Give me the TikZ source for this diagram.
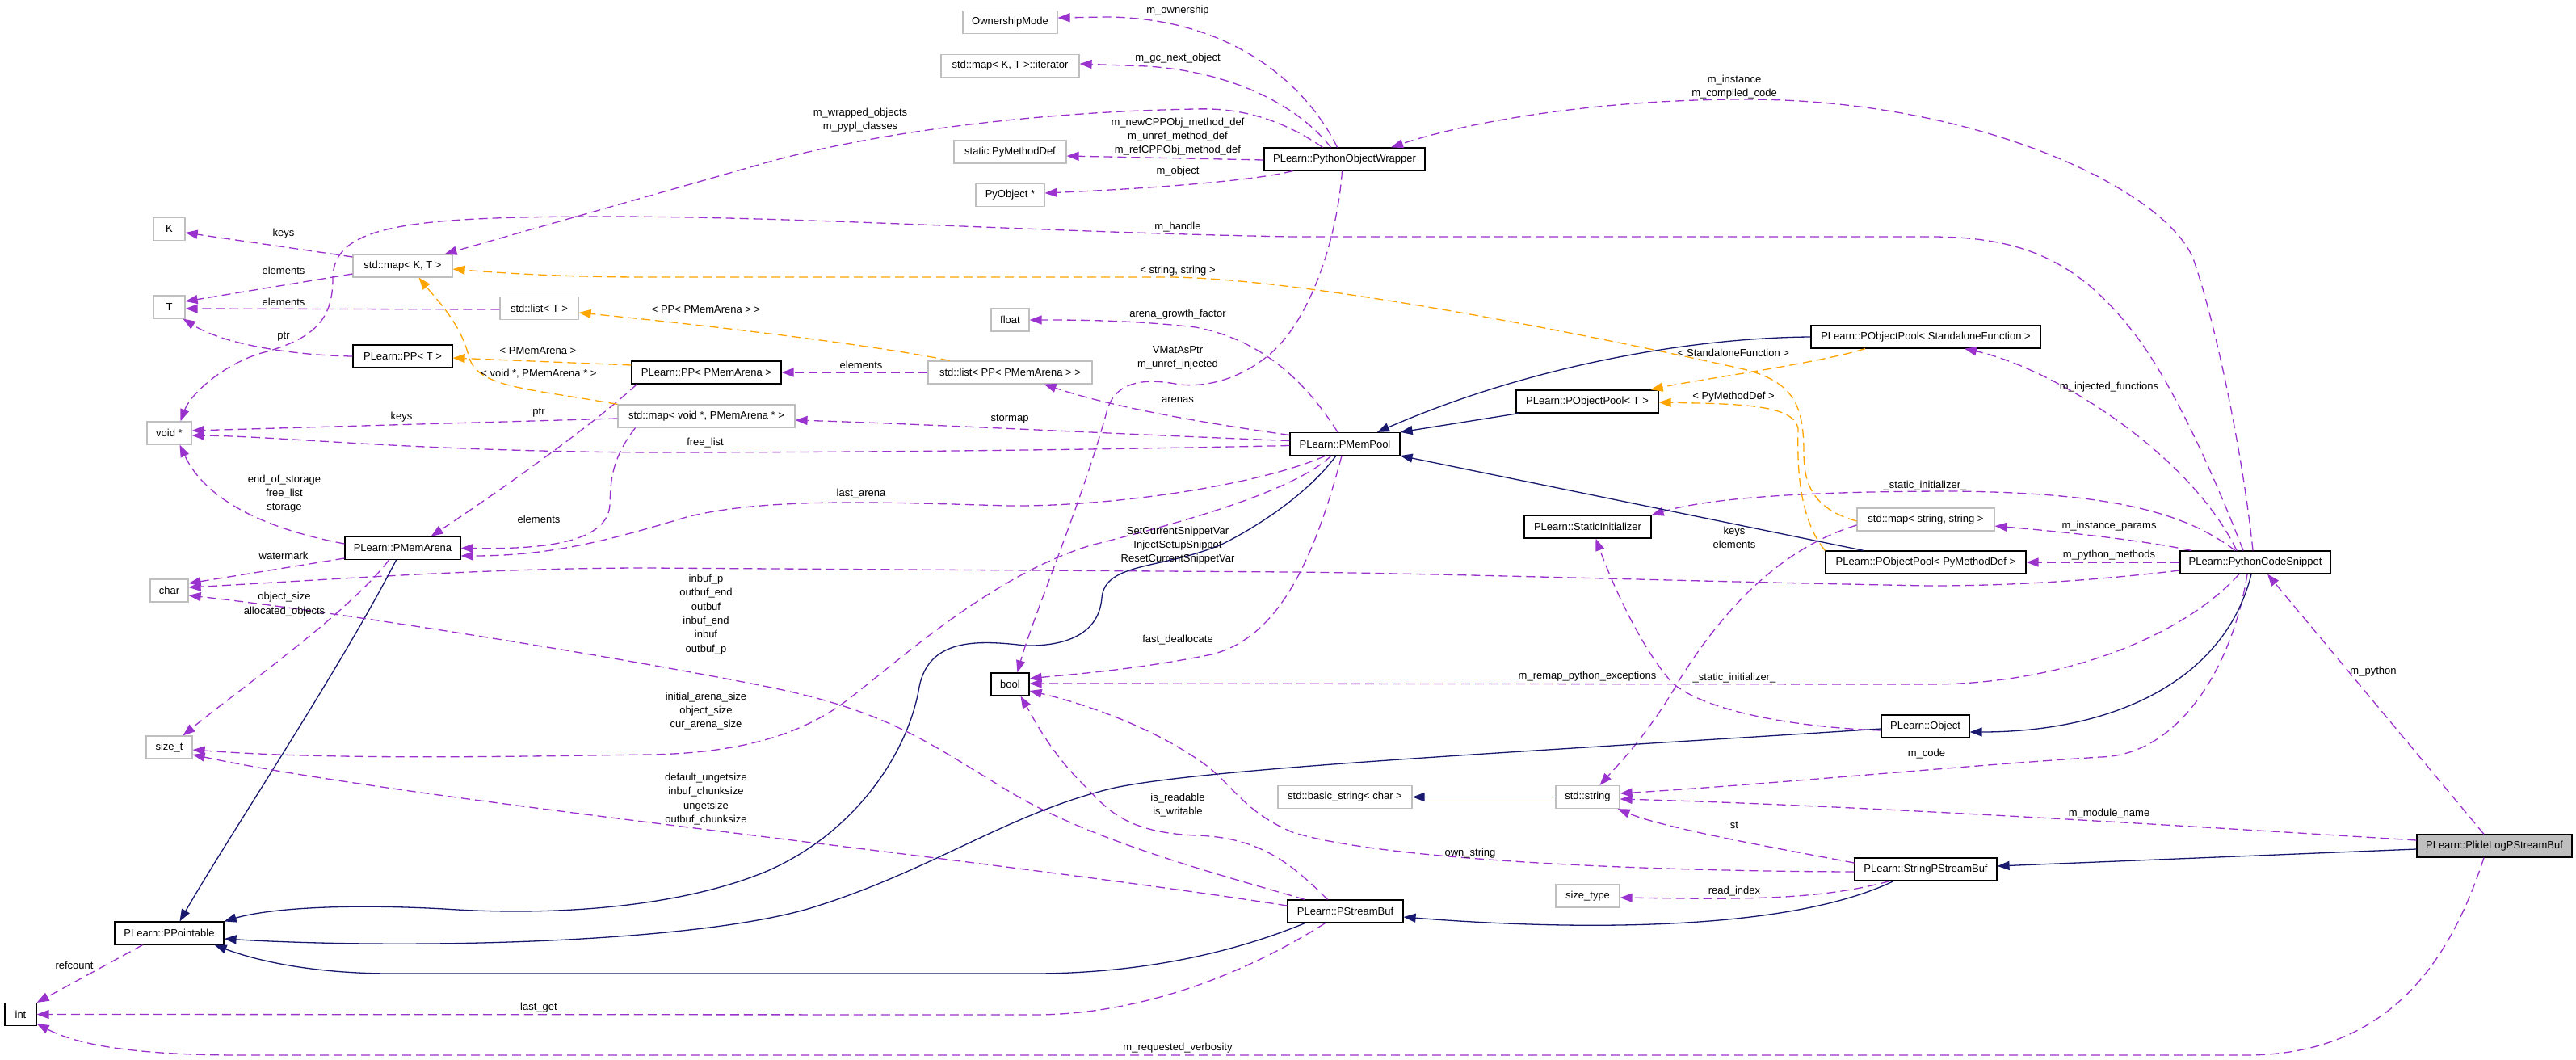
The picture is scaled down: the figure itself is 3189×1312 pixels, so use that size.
\documentclass[tikz,border=0pt]{standalone}
\usepackage{fontspec}
\setmainfont{Liberation Sans}
\usetikzlibrary{arrows.meta}
\definecolor{epurple}{HTML}{9A32CD}
\definecolor{eorange}{HTML}{FFA500}
\definecolor{enavy}{HTML}{191970}
\definecolor{bgray}{HTML}{BFBFBF}
\definecolor{bfill}{HTML}{BFBFBF}
\newcommand{\dfont}{\fontsize{13pt}{17.3pt}\selectfont}
\begin{document}
\begin{tikzpicture}[x=1pt,y=-1pt,
  box/.style={rectangle, minimum height=28pt, inner sep=0pt, font=\dfont, line width=1.2pt, fill=white},
  ext/.style={box, draw=bgray},
  cls/.style={box, draw=black},
  conn/.style={line width=1.3pt, -{Triangle[length=15pt,width=11pt]}},
  mem/.style={conn, draw=epurple, dash pattern=on 11pt off 6pt},
  tmpl/.style={conn, draw=eorange, dash pattern=on 11pt off 6pt},
  inh/.style={conn, draw=enavy},
  lbl/.style={font=\dfont, align=center, inner sep=0pt}]
\fill[white] (0,0) rectangle (3189,1312);
\useasboundingbox (0,0) rectangle (3189,1312);

% ---------- nodes ----------
\node[ext, minimum width=39pt] (K) at (209.5,283.5) {K};
\node[ext, minimum width=39pt] (T) at (209.5,380) {T};
\node[ext, minimum width=123pt] (mapKT) at (498.5,329) {std::map< K, T >};
\node[ext, minimum width=97pt] (listT) at (667.5,381.5) {std::list< T >};
\node[cls, minimum width=123pt] (PPT) at (498.5,441) {PLearn::PP< T >};
\node[ext, minimum width=55pt] (voidp) at (209.5,536) {void *};
\node[ext, minimum width=47pt] (char) at (209.5,731) {char};
\node[ext, minimum width=57pt] (sizet) at (209.5,925) {size\_t};
\node[ext, minimum width=117pt] (own) at (1250.5,27.5) {OwnershipMode};
\node[ext, minimum width=171pt] (iter) at (1250.5,81.5) {std::map< K, T >::iterator};
\node[ext, minimum width=139pt] (spmd) at (1250.5,188) {static PyMethodDef};
\node[ext, minimum width=85pt] (pyobj) at (1250.5,241.5) {PyObject *};
\node[ext, minimum width=47pt] (float) at (1250.5,396) {float};
\node[ext, minimum width=219pt] (mapVoid) at (874.5,515) {std::map< void *, PMemArena * >};
\node[ext, minimum width=203pt] (listPP) at (1250.5,461) {std::list< PP< PMemArena > >};
\node[ext, minimum width=170pt] (mapSS) at (2384,643) {std::map< string, string >};
\node[ext, minimum width=166pt] (bstr) at (1665,986.5) {std::basic\_string< char >};
\node[ext, minimum width=79pt] (str) at (1965.5,986.5) {std::string};
\node[ext, minimum width=79pt] (stype) at (1965.5,1109) {size\_type};
\node[cls, minimum width=185pt] (PPMA) at (874.5,461) {PLearn::PP< PMemArena >};
\node[cls, minimum width=143pt] (PMA) at (498.5,678.5) {PLearn::PMemArena};
\node[cls, minimum width=135pt] (PPo) at (209.5,1155) {PLearn::PPointable};
\node[cls, minimum width=39pt] (int) at (25.5,1255.5) {int};
\node[cls, minimum width=47pt] (bool) at (1250.5,847) {bool};
\node[cls, minimum width=199pt] (POW) at (1664.5,197) {PLearn::PythonObjectWrapper};
\node[cls, minimum width=136pt] (PMP) at (1665,549.5) {PLearn::PMemPool};
\node[cls, minimum width=176pt] (POPT) at (1965,497) {PLearn::PObjectPool< T >};
\node[cls, minimum width=284pt] (POPSF) at (2384,417) {PLearn::PObjectPool< StandaloneFunction >};
\node[cls, minimum width=157pt] (SI) at (1965.5,652) {PLearn::StaticInitializer};
\node[cls, minimum width=248pt] (POPPMD) at (2384,696) {PLearn::PObjectPool< PyMethodDef >};
\node[cls, minimum width=186pt] (PCS) at (2792,696) {PLearn::PythonCodeSnippet};
\node[cls, minimum width=109pt] (Obj) at (2383.5,899) {PLearn::Object};
\node[cls, minimum width=176pt] (SPSB) at (2384,1076) {PLearn::StringPStreamBuf};
\node[cls, minimum width=143pt] (PSB) at (1665.5,1128) {PLearn::PStreamBuf};
\node[cls, fill=bfill, minimum width=192pt] (PLPS) at (3088,1047) {PLearn::PlideLogPStreamBuf};

% ---------- connectors ----------
\draw[mem] ([yshift=11pt]mapKT.west) -- ([yshift=-4.5pt]K.east);
\draw[mem] ([yshift=-10pt]mapKT.west) -- ([yshift=7pt]T.east);
\draw[mem] ([yshift=-1.5pt]listT.west) -- ([yshift=-2pt]T.east);
\draw[mem] (PPT.west) .. controls (370,440) and (280,428) .. ([xshift=-3pt]T.south east);
\draw[mem] ([xshift=-15pt]PCS.north) .. controls (2730,560) and (2680,460) .. (2640,410) .. controls (2570,320) and (2500,293) .. (2389,293) -- (1600,293) .. controls (1300,288) and (1000,268) .. (750,268) .. controls (500,268) and (412,280) .. (412,345) .. controls (412,395) and (390,420) .. (320,438) .. controls (270,455) and (235,490) .. ([xshift=14pt]voidp.north);
\draw[mem] ([xshift=-27pt]POW.north) .. controls (1590,150) and (1540,133) .. (1480,135) .. controls (1300,138) and (1100,160) .. (953,200) -- ([xshift=52pt]mapKT.north);
\draw[mem] ([xshift=-9pt]POW.north) .. controls (1615,100) and (1520,22) .. (1370,21) -- ([yshift=5.5pt]own.east);
\draw[mem] ([xshift=-17pt]POW.north) .. controls (1615,140) and (1540,90) .. (1420,82) -- ([yshift=2.5pt]iter.east);
\draw[mem] ([yshift=-1pt]POW.west) -- ([yshift=-5pt]spmd.east);
\draw[mem] ([xshift=-64pt]POW.south) .. controls (1560,222) and (1450,232) .. ([yshift=2.5pt]pyobj.east);
\draw[mem] ([xshift=-3pt]PCS.north) .. controls (2775,550) and (2740,390) .. (2715,320) .. controls (2680,235) and (2450,123) .. (2160,123) .. controls (1980,123) and (1820,150) .. ([xshift=57.5pt]POW.north);
\draw[mem] ([xshift=-23pt]PCS.north) .. controls (2710,560) and (2540,455) .. ([xshift=48pt]POPSF.south);
\draw[mem] ([xshift=-25pt]PCS.north) .. controls (2700,630) and (2600,610) .. (2420,608) .. controls (2250,608) and (2120,615) .. (SI.north east);
\draw[mem] ([xshift=-79pt]PCS.north) .. controls (2650,668) and (2550,658) .. ([yshift=-8pt]mapSS.east);
\draw[mem] (PCS.west) -- (POPPMD.east);
\draw[mem] ([yshift=-10pt]PCS.west) .. controls (2580,720) and (2480,725) .. (2389,725) .. controls (2100,720) and (1800,710) .. (1600,708) -- (800,703) .. controls (600,703) and (400,718) .. ([yshift=4pt]char.east);
\draw[mem] ([xshift=-20pt]PCS.south) .. controls (2700,790) and (2550,847) .. (2389,847) -- ([yshift=1pt]bool.east);
\draw[mem] ([xshift=-10pt]PCS.south) .. controls (2765,820) and (2700,935) .. (2600,937) .. controls (2400,950) and (2200,970) .. ([yshift=4.5pt]str.east);
\draw[inh] ([xshift=-5pt]PCS.south) .. controls (2755,840) and (2620,906) .. ([yshift=-7pt]Obj.east);
\draw[mem] ([xshift=-13pt]PLPS.north) -- ([xshift=15pt]PCS.south);
\draw[mem] ([yshift=7pt]PLPS.west) .. controls (2700,1022) and (2300,997) .. ([yshift=-2.5pt]str.east);
\draw[inh] ([yshift=-4pt]PLPS.west) -- ([yshift=4pt]SPSB.east);
\draw[mem] ([xshift=-13pt]PLPS.south) .. controls (3030,1200) and (2950,1306) .. (2780,1306) -- (300,1306) .. controls (150,1306) and (90,1290) .. ([yshift=3pt]int.south east);
\draw[mem] ([yshift=8pt]SPSB.west) .. controls (2200,1050) and (2060,1025) .. ([xshift=-3pt]str.south east);
\draw[mem] ([yshift=-3pt]SPSB.west) .. controls (2000,1078) and (1700,1062) .. (1600,1030) .. controls (1540,1005) and (1525,970) .. (1490,945) .. controls (1420,895) and (1330,868) .. ([yshift=-8pt]bool.east);
\draw[mem] ([xshift=-45pt]SPSB.south) .. controls (2250,1115) and (2150,1113) .. ([yshift=-2pt]stype.east);
\draw[inh] ([xshift=-40pt]SPSB.south) .. controls (2200,1160) and (1900,1148) .. ([yshift=-7pt]PSB.east);
\draw[inh] (str.west) -- (bstr.east);
\draw[mem] ([yshift=-7pt]mapSS.west) .. controls (2200,680) and (2130,760) .. (2080,840) .. controls (2040,910) and (2000,950) .. ([xshift=15pt]str.north);
\draw[mem] ([yshift=-5pt]Obj.west) .. controls (2220,900) and (2110,880) .. (2070,845) .. controls (2030,800) and (1995,720) .. ([xshift=10pt]SI.south);
\draw[inh] ([yshift=-3pt]Obj.west) .. controls (1900,930) and (1500,950) .. (1380,975) .. controls (1250,1005) and (1150,1080) .. (1000,1125) .. controls (850,1168) and (500,1175) .. ([yshift=-7pt]PPo.east);
\draw[inh] ([xshift=-50pt]PSB.south) .. controls (1500,1190) and (1380,1205) .. (1280,1205) -- (485,1205) .. controls (390,1205) and (320,1190) .. ([xshift=-12pt]PPo.south east);
\draw[inh] ([xshift=-11pt]PMP.south) .. controls (1620,610) and (1560,650) .. (1514,673) .. controls (1440,705) and (1368,695) .. (1364,740) .. controls (1360,790) and (1310,800) .. (1269,799) .. controls (1210,792) and (1150,790) .. (1138,850) .. controls (1125,930) and (1060,1030) .. (950,1078) .. controls (850,1120) and (700,1135) .. (550,1125) .. controls (420,1118) and (330,1125) .. (PPo.north east);
\draw[inh] ([xshift=-8pt]PMA.south) .. controls (420,830) and (280,1040) .. ([xshift=13pt]PPo.north);
\draw[mem] ([yshift=-12.5pt]PMA.west) -- ([yshift=9pt]char.east);
\draw[mem] ([yshift=5.5pt]PMA.west) .. controls (330,655) and (255,620) .. ([xshift=13pt]voidp.south);
\draw[mem] ([xshift=-17pt]PMA.south) .. controls (430,760) and (300,850) .. ([xshift=17pt]sizet.north);
\draw[mem] ([xshift=-24pt]PMP.south) .. controls (1560,600) and (1380,627) .. (1250,626) .. controls (1100,622) and (950,615) .. (850,640) .. controls (750,670) and (680,688) .. ([yshift=-9.5pt]PMA.east);
\draw[mem] ([xshift=-17pt]PMP.south) .. controls (1600,610) and (1450,650) .. (1350,675) .. controls (1220,715) and (1100,830) .. (1040,873) .. controls (980,915) and (900,933) .. (800,934) .. controls (600,937) and (400,940) .. ([yshift=-3pt]sizet.east);
\draw[mem] ([xshift=-4pt]PMP.south) .. controls (1625,700) and (1580,790) .. (1500,810) .. controls (1400,830) and (1320,835) .. ([yshift=7pt]bool.east);
\draw[mem] ([yshift=-2pt]PMP.west) .. controls (1300,558) and (1000,560) .. (800,560) .. controls (500,558) and (350,540) .. ([yshift=-3pt]voidp.east);
\draw[mem] ([yshift=4pt]PMP.west) .. controls (1400,538) and (1150,525) .. ([yshift=-5pt]mapVoid.east);
\draw[mem] ([yshift=11pt]PMP.west) .. controls (1500,525) and (1380,505) .. ([xshift=42pt]listPP.south);
\draw[mem] ([xshift=-9pt]PMP.north) .. controls (1615,470) and (1560,420) .. (1480,405) .. controls (1400,396) and (1330,396) .. (float.east);
\draw[mem] ([xshift=-3pt]POW.south) .. controls (1655,300) and (1620,400) .. (1570,440) .. controls (1540,465) and (1500,480) .. (1460,476) .. controls (1420,468) and (1380,470) .. (1370,510) .. controls (1340,620) and (1280,760) .. ([xshift=9pt]bool.north);
\draw[mem] ([xshift=-22pt]PSB.north) .. controls (1600,1070) and (1560,1036) .. (1480,1034) .. controls (1390,1030) and (1370,1000) .. (1340,970) .. controls (1300,930) and (1280,890) .. ([xshift=13pt]bool.south);
\draw[mem] ([xshift=-50pt]PSB.north) .. controls (1500,1080) and (1350,1040) .. (1250,980) .. controls (1150,920) and (1100,880) .. (950,850) .. controls (750,810) and (400,755) .. ([yshift=-6pt]char.east);
\draw[mem] ([yshift=7pt]PSB.west) .. controls (1200,1060) and (500,990) .. ([yshift=-9pt]sizet.east);
\draw[mem] ([xshift=-25pt]PSB.south) .. controls (1550,1200) and (1420,1256) .. (1280,1256) -- (int.east);
\draw[mem] ([xshift=-33pt]PPo.south) -- (int.north east);
\draw[mem] (listPP.west) -- (PPMA.east);
\draw[mem] ([xshift=-86pt]PPMA.south) .. controls (730,530) and (600,620) .. ([xshift=35pt]PMA.north);
\draw[mem] ([yshift=-3pt]mapVoid.west) -- ([yshift=3pt]voidp.east);
\draw[mem] ([xshift=-88pt]mapVoid.south) .. controls (755,570) and (756,600) .. (755,625) .. controls (752,680) and (640,679) .. (PMA.east);
\draw[tmpl] ([yshift=9pt]PPMA.west) -- ([yshift=-2pt]PPT.east);
\draw[tmpl] (mapVoid.north west) .. controls (650,480) and (590,480) .. (580,440) .. controls (570,400) and (540,370) .. ([xshift=20pt]mapKT.south);
\draw[tmpl] ([xshift=-75pt]listPP.north) .. controls (1100,430) and (900,405) .. ([yshift=-5.5pt]listT.east);
\draw[tmpl] ([yshift=-2pt]mapSS.west) .. controls (2245,630) and (2233,600) .. (2233,560) .. controls (2233,500) and (2220,470) .. (2150,455) .. controls (1900,400) and (1600,345) .. (1450,343) -- (800,343) .. controls (700,343) and (620,338) .. ([yshift=-4pt]mapKT.east);
\draw[tmpl] ([xshift=-75pt]POPSF.south) .. controls (2250,450) and (2100,470) .. ([xshift=-10pt]POPT.north east);
\draw[tmpl] (POPPMD.north west) .. controls (2225,640) and (2225,570) .. (2226,530) .. controls (2220,500) and (2150,500) .. ([yshift=-1pt]POPT.east);
\draw[inh] (POPSF.west) .. controls (2100,418) and (1900,450) .. ([xshift=40pt]PMP.north);
\draw[inh] ([xshift=-85pt]POPT.south) -- (PMP.north east);
\draw[inh] ([xshift=-77pt]POPPMD.north) -- (PMP.south east);

% ---------- labels ----------
\node[lbl] (l1) at (351,289) {keys};
\node[lbl] (l2) at (351,335) {elements};
\node[lbl] (l3) at (351,374) {elements};
\node[lbl] (l4) at (351,417) {ptr};
\node[lbl] (l5) at (666,434) {< PMemArena >};
\node[lbl] (l6) at (667,463) {< void *, PMemArena * >};
\node[lbl] (l7) at (497,516) {keys};
\node[lbl] (l8) at (667,511) {ptr};
\node[lbl] (l9) at (352,611) {end\_of\_storage\\free\_list\\storage};
\node[lbl] (l10) at (667,643) {elements};
\node[lbl] (l11) at (351,688) {watermark};
\node[lbl] (l12) at (352,748) {object\_size\\allocated\_objects};
\node[lbl] (l13) at (1065,148.5) {m\_wrapped\_objects\\m\_pypl\_classes};
\node[lbl] (l14) at (1458,13) {m\_ownership};
\node[lbl] (l15) at (1458,72) {m\_gc\_next\_object};
\node[lbl] (l16) at (1458,169) {m\_newCPPObj\_method\_def\\m\_unref\_method\_def\\m\_refCPPObj\_method\_def};
\node[lbl] (l17) at (1458,212) {m\_object};
\node[lbl] (l18) at (1458,281) {m\_handle};
\node[lbl] (l19) at (1458,335) {< string, string >};
\node[lbl] (l20) at (874,383) {< PP< PMemArena > >};
\node[lbl] (l21) at (1458,389) {arena\_growth\_factor};
\node[lbl] (l22) at (1458,443) {VMatAsPtr\\m\_unref\_injected};
\node[lbl] (l23) at (1066,452) {elements};
\node[lbl] (l24) at (1458,495) {arenas};
\node[lbl] (l25) at (1250,519) {stormap};
\node[lbl] (l26) at (873,548) {free\_list};
\node[lbl] (l27) at (1066,611) {last\_arena};
\node[lbl] (l28) at (1458,675) {SetCurrentSnippetVar\\InjectSetupSnippet\\ResetCurrentSnippetVar};
\node[lbl] (l29) at (874,760.5) {inbuf\_p\\outbuf\_end\\outbuf\\inbuf\_end\\inbuf\\outbuf\_p};
\node[lbl] (l30) at (1458,792) {fast\_deallocate};
\node[lbl] (l31) at (874,880) {initial\_arena\_size\\object\_size\\cur\_arena\_size};
\node[lbl] (l32) at (874,989) {default\_ungetsize\\inbuf\_chunksize\\ungetsize\\outbuf\_chunksize};
\node[lbl] (l33) at (1458,996.5) {is\_readable\\is\_writable};
\node[lbl] (l34) at (667,1247) {last\_get};
\node[lbl] (l35) at (1458,1297) {m\_requested\_verbosity};
\node[lbl] (l36) at (92,1195) {refcount};
\node[lbl] (l37) at (2147,107.5) {m\_instance\\m\_compiled\_code};
\node[lbl] (l38) at (2146,437) {< StandaloneFunction >};
\node[lbl] (l39) at (2146,491) {< PyMethodDef >};
\node[lbl] (l40) at (2611,479) {m\_injected\_functions};
\node[lbl] (l41) at (2383,601) {\_static\_initializer\_};
\node[lbl] (l42) at (2147,665.5) {keys\\elements};
\node[lbl] (l43) at (2611,651) {m\_instance\_params};
\node[lbl] (l44) at (2611,687) {m\_python\_methods};
\node[lbl] (l45) at (1965,837) {m\_remap\_python\_exceptions};
\node[lbl] (l46) at (2147,839) {\_static\_initializer\_};
\node[lbl] (l47) at (2938,831) {m\_python};
\node[lbl] (l48) at (2385,933) {m\_code};
\node[lbl] (l49) at (2611,1007) {m\_module\_name};
\node[lbl] (l50) at (2147,1021) {st};
\node[lbl] (l51) at (1820,1056) {own\_string};
\node[lbl] (l52) at (2147,1103) {read\_index};
\end{tikzpicture}
\end{document}
